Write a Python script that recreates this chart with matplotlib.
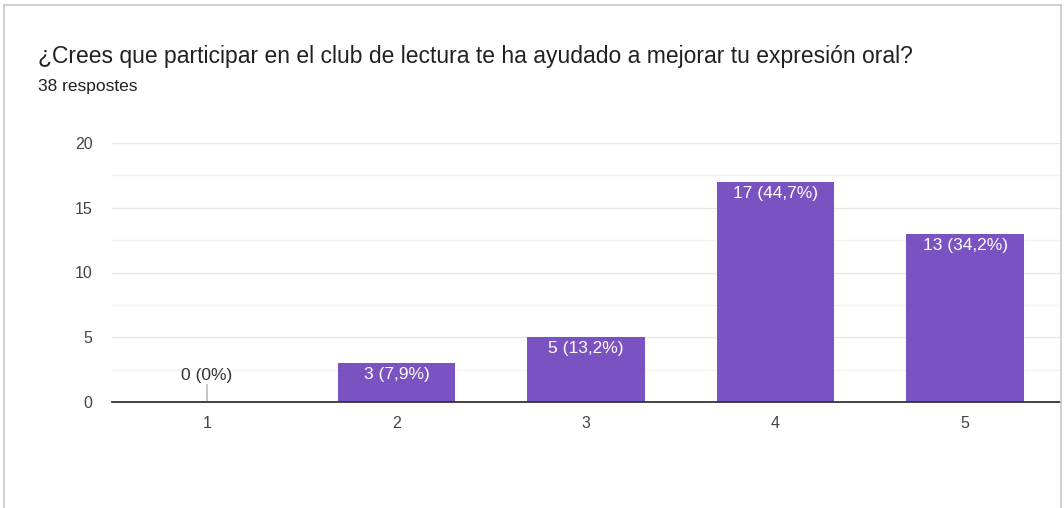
import matplotlib
matplotlib.use("Agg")
from matplotlib import pyplot as plt
from matplotlib.lines import Line2D

# data
categories = [1, 2, 3, 4, 5]
counts = [0, 3, 5, 17, 13]
labels = ["0 (0%)", "3 (7,9%)", "5 (13,2%)", "17 (44,7%)", "13 (34,2%)"]
yticks = [0, 5, 10, 15, 20]

title = "¿Crees que participar en el club de lectura te ha ayudado a mejorar tu expresión oral?"
subtitle = "38 respostes"

purple = "#7b52c1"
plt.rcParams['font.family'] = ['Liberation Sans', 'DejaVu Sans']

fig = plt.figure(figsize=(10.64, 5.08), dpi=100)
W, H = 1064, 508
ax = fig.add_axes([112/W, 1-402/H, (1060-112)/W, (402-143)/H])

ax.bar(categories, counts, width=0.62, color=purple, zorder=3)
ax.set_xlim(0.5, 5.5)
ax.set_ylim(0, 20)

# grid: major + lighter minor lines
ax.set_yticks(yticks)
ax.set_yticks([2.5, 7.5, 12.5, 17.5], minor=True)
ax.grid(axis="y", which="major", color="#e6e6e6", lw=1, zorder=0)
ax.grid(axis="y", which="minor", color="#f3f3f3", lw=1, zorder=0)
ax.tick_params(axis="y", which="both", length=0, labelsize=11.5, colors="#444444", pad=14)
ax.set_xticks(categories)
ax.tick_params(axis="x", length=0, labelsize=11.5, colors="#444444", pad=10)
for s in ["top", "right", "left"]:
    ax.spines[s].set_visible(False)
ax.spines["bottom"].set_color("#333333")
ax.spines["bottom"].set_linewidth(1.3)
ax.spines["bottom"].set_zorder(4)

for x, v, lab in zip(categories, counts, labels):
    if v == 0:
        ax.plot([x, x], [0, 1.3], color="#bbbbbb", lw=1.2, zorder=3)
        ax.text(x, 1.45, lab, ha="center", va="bottom", fontsize=12.5, color="#333333")
    else:
        ax.text(x, v - 0.3, lab, ha="center", va="top", fontsize=12.5, color="white", zorder=5)

fig.text(38/W, 1-57/H, title, ha="left", va="center", fontsize=16.5, color="#202124")
fig.text(38/W, 1-87/H, subtitle, ha="left", va="center", fontsize=12.5, color="#202124")

# screenshot border
bc = "#c8c8c8"
fig.add_artist(Line2D([4/W, 4/W], [0, 1-5/H], color=bc, lw=1.2))
fig.add_artist(Line2D([4/W, 1061/W], [1-5/H, 1-5/H], color=bc, lw=1.2))
fig.add_artist(Line2D([1061/W, 1061/W], [0, 1-5/H], color=bc, lw=1.2))

fig.savefig("out.png", dpi=100)
